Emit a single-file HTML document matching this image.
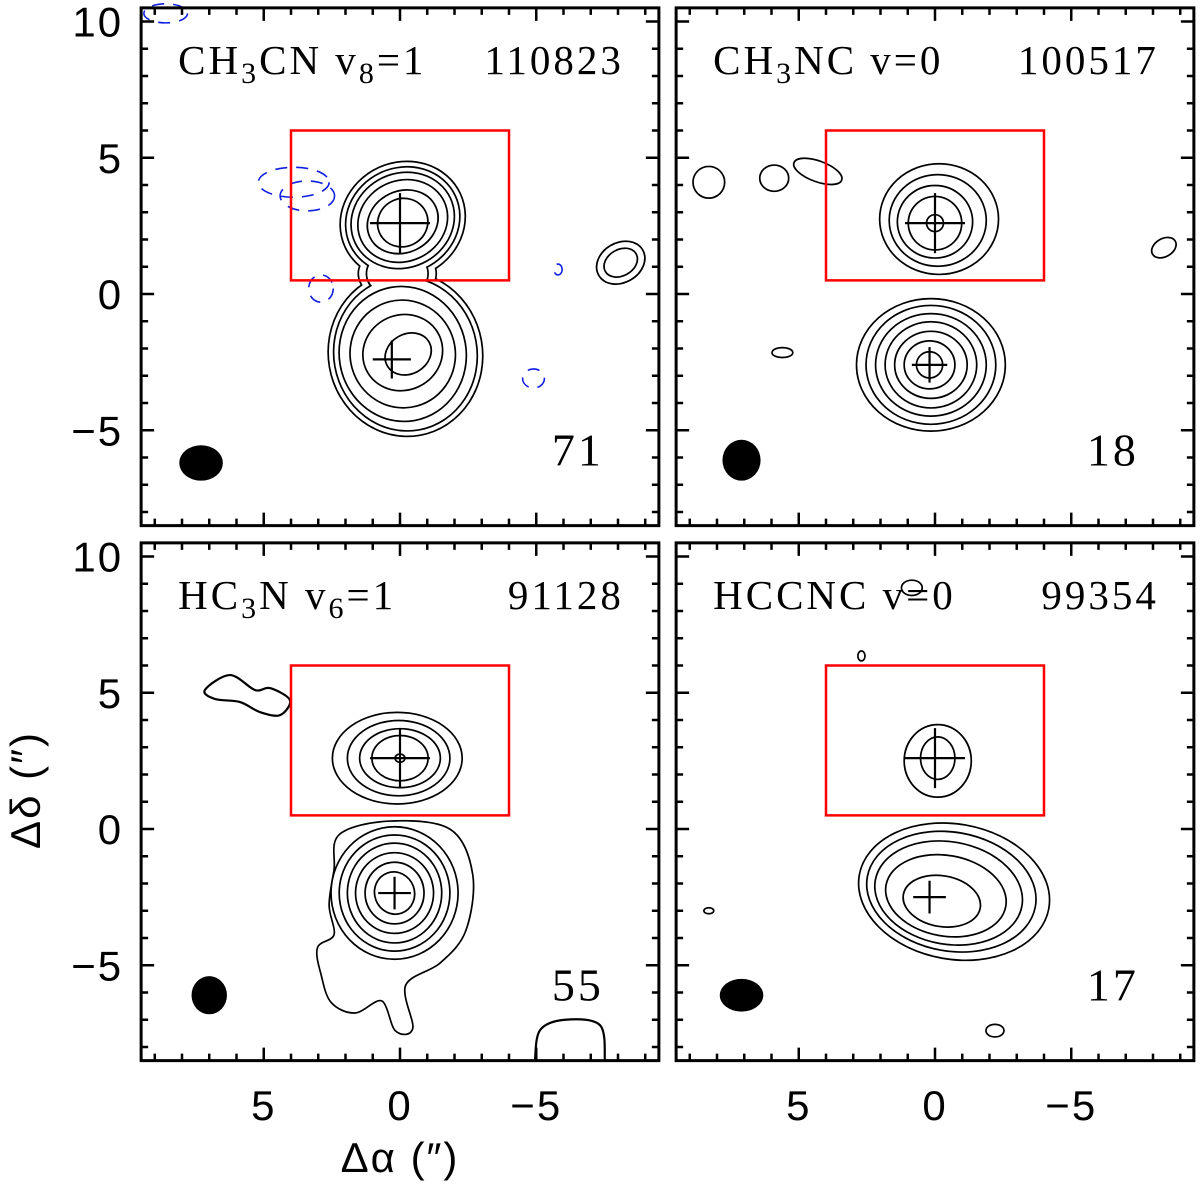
<!DOCTYPE html>
<html><head><meta charset="utf-8"><style>
html,body{margin:0;padding:0;background:#fff;}
svg{display:block;}
.lab{font-family:"Liberation Serif",serif;font-size:41px;fill:#000;letter-spacing:3px;}
.tick{font-family:"Liberation Sans",sans-serif;font-size:42px;fill:#000;letter-spacing:2px;}
</style></head><body>
<svg id="fig" width="1200" height="1184" viewBox="0 0 1200 1184" xmlns="http://www.w3.org/2000/svg"></svg>
<script>
const S = 27.25;
const panelNames = ['ch3cn-panel','ch3nc-panel','hc3n-panel','hccnc-panel'];
const panelX0 = [400, 935, 400, 935];
const panelY0 = [294, 294, 829, 829];
const xRange = [9.5, -9.5];
const yRange = [10.5, -8.5];
const xTicks = [5, 0, -5];
const xTickLabels = ['5', '0', '\u22125'];
const yTicks = [10, 5, 0, -5];
const yTickLabels = ['10', '5', '0', '\u22125'];
const molecules = [['CH','3','CN v','8','=1'],['CH','3','NC v=0','',''],['HC','3','N v','6','=1'],['HCCNC v=0','','','','']];
const freqs = ['110823','100517','91128','99354'];
const peakVals = ['71','18','55','17'];
const ePanel = [0,0,0,0,0,0, 0,0,0,0,0,0, 0,0, 0,0, 1,1,1,1,1, 1,1,1,1,1,1,1, 1,1,1,1,1, 2,2,2,2,2, 2,2,2,2,2,2, 3,3, 3,3,3,3,3, 3,3,3,3];
const eLevel = [1,2,3,4,5,6, 1,2,3,4,5,6, 1,2, 1,2, 1,2,3,4,5, 1,2,3,4,5,6,7, 1,1,1,1,1, 2,3,4,5,6, 2,3,4,5,6,7, 1,2, 1,2,3,4,5, 1,1,1,1];
const eCx = [-0.1,-0.1,-0.1,-0.1,-0.1,-0.1, -0.2,-0.2,-0.1,-0.1,-0.1,-0.3, -8.1,-8.1, 0.1,0.1, -0.15,-0.1,0,0,0, 0.15,0.15,0.15,0.15,0.15,0.2,0.2, 8.3,5.9,4.3,5.6,-8.4, 0.1,0.05,0,0,0, 0.2,0.2,0.2,0.2,0.2,0.2, -0.1,-0.1, -0.7,-0.6,-0.5,-0.4,-0.25, 0.85,2.7,8.3,-2.2];
const eCy = [2.7,2.7,2.7,2.68,2.65,2.62, -2.2,-2.2,-2.2,-2.2,-2.15,-2.2, 1.15,1.15, 0.75,0.75, 2.75,2.7,2.65,2.6,2.6, -2.6,-2.6,-2.6,-2.6,-2.6,-2.6,-2.6, 4.1,4.25,4.5,-2.15,1.7, 2.6,2.6,2.6,2.6,2.6, -2.35,-2.35,-2.35,-2.35,-2.35,-2.35, 2.5,2.6, -2.3,-2.3,-2.35,-2.45,-2.65, 8.85,6.35,-3.0,-7.4];
const eRx = [2.3,2.1,1.9,1.65,1.3,0.9, 2.8,2.6,2.3,1.9,1.45,0.85, 0.9,0.62, 1.4,1.1, 2.15,1.75,1.35,0.95,0.28, 2.7,2.35,2.0,1.65,1.3,0.9,0.45, 0.55,0.5,0.9,0.35,0.45, 2.35,1.85,1.45,1.0,0.15, 2.3,2.0,1.7,1.4,1.05,0.7, 1.2,0.6, 3.5,3.1,2.7,2.2,1.4, 0.35,0.1,0.15,0.3];
const eRy = [2.1,1.9,1.7,1.45,1.1,0.85, 3.0,2.8,2.45,1.95,1.35,0.7, 0.7,0.45, 1.0,0.85, 2.0,1.65,1.3,0.95,0.28, 2.4,2.15,1.85,1.55,1.2,0.85,0.45, 0.55,0.45,0.35,0.15,0.3, 1.65,1.35,1.05,0.8,0.12, 2.4,2.1,1.8,1.45,1.1,0.75, 1.3,0.75, 2.45,2.15,1.85,1.45,0.9, 0.25,0.15,0.08,0.2];
const eRot = [-25,-25,-25,-25,-25,-25, -10,-10,-10,-15,-25,-30, -30,-30, 0,0, 0,0,0,0,0, 0,0,0,0,0,0,0, 0,0,20,0,-30, 0,0,0,0,0, 0,0,0,0,0,-20, 0,0, 10,10,10,10,10, 0,0,0,0];
const tailAx = [2.39,2.2,0.37,-1.83,-2.64,-2.39,-1.47,-0.18,-0.44,0.15,0.66,1.65,2.5,2.86,3.0,2.39,2.57];
const tailAy = [-1.5,-0.22,0.26,-0.04,-1.69,-3.71,-4.88,-5.72,-7.3,-7.38,-6.28,-6.72,-6.35,-5.36,-4.37,-3.89,-2.79];
const blobAx = [7.16,6.24,5.32,4.77,4.04,4.4,5.14,5.87,6.79];
const blobAy = [5.1,5.65,5.1,5.17,4.73,4.18,4.29,4.66,4.77];
const edgeAx = [-4.95,-5.14,-6.06,-7.34,-7.52];
const edgeAy = [-8.5,-7.38,-7.0,-7.2,-8.5];
const nCx = [3.9,3.4,2.9,-5.8,-4.9,8.6];
const nCy = [4.1,3.6,0.2,0.9,-3.1,10.3];
const nRx = [1.3,1.0,0.45,0.15,0.4,0.8];
const nRy = [0.55,0.55,0.5,0.2,0.35,0.35];
const bCx = [7.3,7.1,7.0,7.1];
const bCy = [-6.2,-6.1,-6.1,-6.1];
const bRx = [0.8,0.7,0.65,0.8];
const bRy = [0.65,0.75,0.7,0.6];
const cPanel = [0,0,1,1,2,2,3,3];
const cX = [0,0.3,0,0.2,0,0.2,0,0.2];
const cY = [2.6,-2.4,2.6,-2.6,2.6,-2.35,2.6,-2.5];
const cArm = [1.1,0.7,1.1,0.65,1.1,0.6,1.1,0.6];

const NS='http://www.w3.org/2000/svg';
const svg=document.getElementById('fig');
function mk(tag,attrs,parent){const e=document.createElementNS(NS,tag);for(const k in attrs)e.setAttribute(k,attrs[k]);(parent||svg).appendChild(e);return e;}
function X(p,a){return panelX0[p]-a*S;}
function Y(p,a){return panelY0[p]-a*S;}
function smooth(p,ax,ay,closed){
  const pts=ax.map((a,i)=>[X(p,a),Y(p,ay[i])]);const n=pts.length;
  let d='M'+pts[0][0]+','+pts[0][1];
  const last=closed?n:n-1;
  for(let i=0;i<last;i++){
    const p0=pts[(i-1+n)%n],p1=pts[i],p2=pts[(i+1)%n],p3=pts[(i+2)%n];
    const q0=(!closed&&i==0)?p1:p0, q3=(!closed&&i+2>=n)?p2:p3;
    d+=' C'+(p1[0]+(p2[0]-q0[0])/6)+','+(p1[1]+(p2[1]-q0[1])/6)+' '+(p2[0]-(q3[0]-p1[0])/6)+','+(p2[1]-(q3[1]-p1[1])/6)+' '+p2[0]+','+p2[1];
  }
  return d+(closed?' Z':'');
}
for(let p=0;p<4;p++){
  const g=mk('g',{});
  
  
  const L=X(p,xRange[0]),R=X(p,xRange[1]),T=Y(p,yRange[0]),B=Y(p,yRange[1]);
  const cg=mk('g',{},g);
  
  
  if(p==2){
    const t=mk('path',{d:smooth(p,tailAx,tailAy,true),fill:'none',stroke:'#000','stroke-width':3.4},cg);
    
    
    mk('path',{d:smooth(p,tailAx,tailAy,true),fill:'#fff'},cg);
    const b=mk('path',{d:smooth(p,blobAx,blobAy,true),fill:'none',stroke:'#000','stroke-width':2.2},cg);
    
    
    const e2=mk('path',{d:smooth(p,edgeAx,edgeAy,false),fill:'none',stroke:'#000','stroke-width':2.2},cg);
    
    
  }
  for(let lv=1;lv<=7;lv++){
    const idx=[];for(let i=0;i<ePanel.length;i++)if(ePanel[i]==p&&eLevel[i]==lv)idx.push(i);
    idx.forEach(i=>{const e=mk('ellipse',{cx:X(p,eCx[i]),cy:Y(p,eCy[i]),rx:eRx[i]*S,ry:eRy[i]*S,transform:`rotate(${eRot[i]} ${X(p,eCx[i])} ${Y(p,eCy[i])})`,fill:'none',stroke:'#000','stroke-width':3.4},cg);
      
      });
    idx.forEach(i=>{mk('ellipse',{cx:X(p,eCx[i]),cy:Y(p,eCy[i]),rx:eRx[i]*S,ry:eRy[i]*S,transform:`rotate(${eRot[i]} ${X(p,eCx[i])} ${Y(p,eCy[i])})`,fill:'#fff'},cg);});
  }
  if(p==0){for(let i=0;i<nCx.length;i++){const e=mk('ellipse',{cx:X(p,nCx[i]),cy:Y(p,nCy[i]),rx:nRx[i]*S,ry:nRy[i]*S,fill:'none',stroke:'#1020e0','stroke-width':1.6,'stroke-dasharray':'12,9'},g);
    
    }}
  const rb=mk('rect',{x:X(p,4),y:Y(p,6),width:8*S,height:5.5*S,fill:'none',stroke:'#f00','stroke-width':2.5},g);
  
  
  for(let i=0;i<cPanel.length;i++){if(cPanel[i]!=p)continue;
    const cx=X(p,cX[i]),cy=Y(p,cY[i]),a=cArm[i]*S;
    const c=mk('path',{d:`M${cx-a},${cy}H${cx+a}M${cx},${cy-a}V${cy+a}`,stroke:'#000','stroke-width':2.2,fill:'none'},g);
    
    }
  const be=mk('ellipse',{cx:X(p,bCx[p]),cy:Y(p,bCy[p]),rx:bRx[p]*S,ry:bRy[p]*S,fill:'#000'},g);
  
  
  const fr=mk('rect',{x:L,y:T,width:R-L,height:B-T,fill:'none',stroke:'#000','stroke-width':3},g);
  
  
  let d='';
  for(let a=-9;a<=9;a++){const x=X(p,a),len=(a%5==0)?13:7;d+=`M${x},${T}v${len}M${x},${B}v${-len}`;}
  for(let a=-8;a<=10;a++){const y=Y(p,a),len=(a%5==0)?13:7;d+=`M${L},${y}h${len}M${R},${y}h${-len}`;}
  const tk=mk('path',{d:d,stroke:'#000','stroke-width':2.5,fill:'none'},g);
  
  
  const m=molecules[p];
  const t=mk('text',{x:L+37,y:T+66,class:'lab'},g);
  
  
  [[m[0],0],[m[1],1],[m[2],0],[m[3],1],[m[4],0]].forEach(([s,sub],k)=>{if(!s)return;const ts=mk('tspan',{},t);ts.textContent=s;if(sub){ts.setAttribute('font-size','30');ts.setAttribute('dy','9');}else if(k>0){ts.setAttribute('dy','-9');}});
  const f=mk('text',{x:R-35,y:T+66,class:'lab','text-anchor':'end'},g);f.textContent=freqs[p];
  
  
  const pv=mk('text',{x:R-55,y:Y(p,-6.3),class:'lab','text-anchor':'end'},g);pv.textContent=peakVals[p];
  pv.style.fontSize='46px';
  
  
  if(p%2==0){yTicks.forEach((v,i)=>{const tl=mk('text',{x:L-18,y:Y(p,v)+15,class:'tick','text-anchor':'end'},svg);tl.textContent=yTickLabels[i];
    
    });}
  if(p>=2){xTicks.forEach((v,i)=>{const tl=mk('text',{x:X(p,v),y:1120,class:'tick','text-anchor':'middle'},svg);tl.textContent=xTickLabels[i];
    
    });}
}
const xl=mk('text',{x:400,y:1172,class:'tick','text-anchor':'middle'});xl.textContent='\u0394\u03b1  (\u2033)';


const yl=mk('text',{x:0,y:0,class:'tick','text-anchor':'middle',transform:'translate(40,790) rotate(-90)'});yl.textContent='\u0394\u03b4  (\u2033)';


</script>
</body></html>
